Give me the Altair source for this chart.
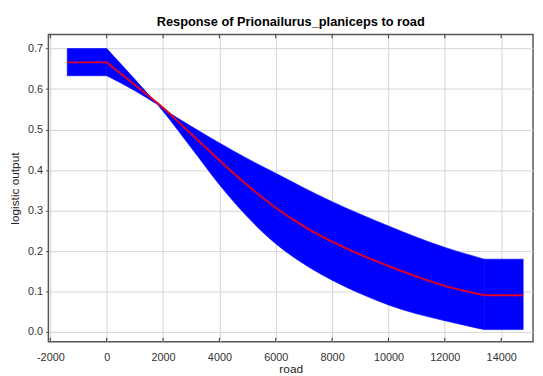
import altair as alt
import pandas as pd

# Mean response curve (segments: flat start, curve, flat end)
mean_x = [-1400, 0, 0, 1000, 2000, 3000, 4000, 5000, 6000, 7000, 8000, 9000, 10000, 11000, 12000, 13000, 13400, 13400, 14780]
mean_y = [0.666, 0.666, 0.666, 0.610, 0.554, 0.489, 0.424, 0.362, 0.307, 0.261, 0.223, 0.191, 0.163, 0.137, 0.114, 0.097, 0.091, 0.091, 0.091]
mean_seg = [0, 0, 1, 1, 1, 1, 1, 1, 1, 1, 1, 1, 1, 1, 1, 1, 1, 2, 2]

# Band (mean +/- one std dev)
band_x = [-1400, 0, 0, 1000, 1800, 1800, 2000, 3000, 4000, 5000, 6000, 7000, 8000, 9000, 10000, 11000, 12000, 13000, 13400, 13400, 14780]
band_hi = [0.700, 0.700, 0.700, 0.624, 0.562, 0.562, 0.552, 0.508, 0.467, 0.428, 0.392, 0.356, 0.322, 0.291, 0.262, 0.234, 0.209, 0.188, 0.180, 0.180, 0.180]
band_lo = [0.633, 0.633, 0.633, 0.596, 0.562, 0.562, 0.545, 0.455, 0.364, 0.284, 0.218, 0.168, 0.128, 0.095, 0.067, 0.045, 0.028, 0.012, 0.006, 0.006, 0.006]
band_seg = [0, 0, 1, 1, 1, 2, 2, 2, 2, 2, 2, 2, 2, 2, 2, 2, 2, 2, 2, 3, 3]

x_ticks = [-2000, 0, 2000, 4000, 6000, 8000, 10000, 12000, 14000]
y_ticks = [0.0, 0.1, 0.2, 0.3, 0.4, 0.5, 0.6, 0.7]

mean_df = pd.DataFrame({"road": mean_x, "out": mean_y, "seg": mean_seg})
band_df = pd.DataFrame({"road": band_x, "hi": band_hi, "lo": band_lo, "seg": band_seg})
tick_df = pd.DataFrame({"road": x_ticks})

W, H = 492, 312
FONT = "Liberation Sans"

xscale = alt.Scale(domain=[-2070, 15130], nice=False, zero=False)
yscale = alt.Scale(domain=[-0.024, 0.735], nice=False, zero=False)

xaxis = alt.Axis(values=x_ticks, title="road", grid=True, gridColor="#d4d4d4",
                 labelExpr="datum.value < 0 ? '-' + format(-datum.value, 'd') : format(datum.value, 'd')",
                 tickSize=0, labelPadding=10, titlePadding=1, labelFontSize=11, titleFontSize=12,
                 titleFontWeight="normal",
                 labelColor="#333333", titleColor="#222222", domain=False)
yaxis = alt.Axis(values=y_ticks, format=".1f", title="logistic output", grid=True, gridColor="#d4d4d4",
                 tickSize=3, tickColor="#555555", labelPadding=3, titlePadding=6, labelFontSize=11,
                 titleFontSize=12, titleFontWeight="normal",
                 labelColor="#333333", titleColor="#222222", domain=False)

band = alt.Chart(band_df).mark_area(color="#0000ff", opacity=1, interpolate="monotone",
                                    stroke="#0000ff", strokeWidth=0.6).encode(
    x=alt.X("road:Q", scale=xscale, axis=xaxis),
    y=alt.Y("hi:Q", scale=yscale, axis=yaxis),
    y2="lo:Q",
    detail="seg:N",
)

line = alt.Chart(mean_df).mark_line(color="#dd0022", strokeWidth=2, interpolate="monotone").encode(
    x=alt.X("road:Q", scale=xscale),
    y=alt.Y("out:Q", scale=yscale),
    detail="seg:N",
)

ticks_bottom = alt.Chart(tick_df).mark_rule(color="#333333").encode(
    x=alt.X("road:Q", scale=xscale),
    y=alt.value(H - 4), y2=alt.value(H),
)
ticks_top = alt.Chart(tick_df).mark_rule(color="#333333").encode(
    x=alt.X("road:Q", scale=xscale),
    y=alt.value(0), y2=alt.value(4),
)

chart = alt.layer(band, line, ticks_bottom, ticks_top).properties(
    width=W, height=H,
    title=alt.Title("Response of Prionailurus_planiceps to road", fontSize=13, font=FONT,
                    fontWeight="bold", color="#000000", offset=5),
    autosize=alt.AutoSizeParams(type="none"),
    padding={"left": 41, "top": 24, "right": 2, "bottom": 36},
).configure_view(
    stroke="#555555", strokeWidth=1.5
).configure_axis(
    labelFont=FONT, titleFont=FONT
)

chart.save("out.html", embed_options={"renderer": "svg", "actions": False})
